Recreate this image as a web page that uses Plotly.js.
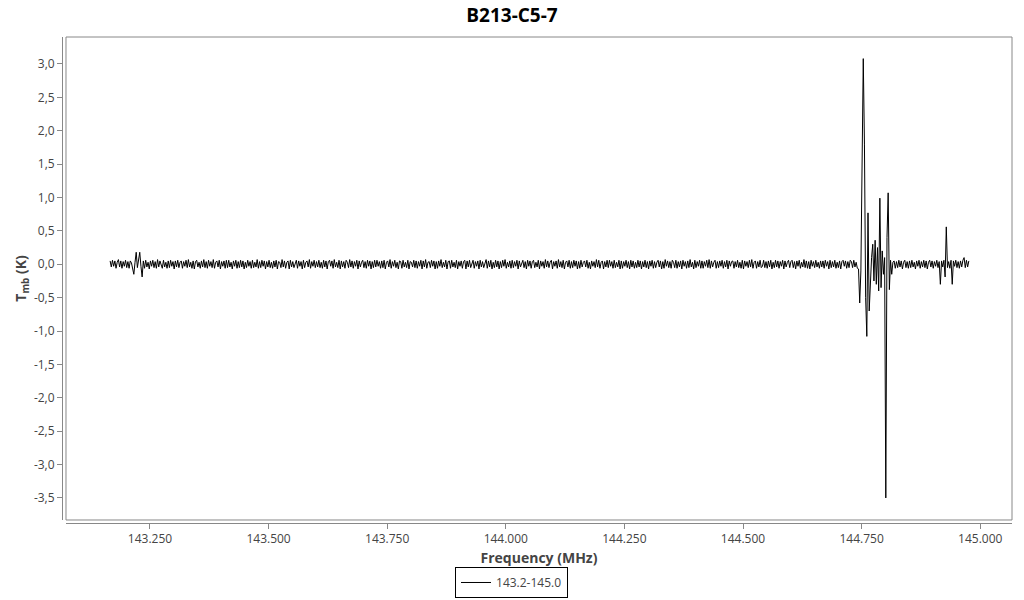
<!DOCTYPE html>
<html>
<head>
<meta charset="utf-8">
<script src="https://cdn.plot.ly/plotly-3.0.1.min.js"></script>
<style>html,body{margin:0;padding:0;background:#fff;}#chart{width:1024px;height:600px;}</style>
</head>
<body>
<div id="chart"></div>
<script>
// Spectrum channel grid: first channel frequency and channel width (MHz)
const freqStart = 143.166;
const freqStep = 0.0025;
const seriesName = "143.2-145.0";
// Main-beam temperature per channel (K)
const tmb = [
0.05,-0.04,0.06,-0.03,0.05,-0.06,0.03,0.07,-0.04,0.05,-0.06,0.04,-0.03,0.06,-0.05,0.04,-0.06,0.05,0.02,-0.05,-0.15,0.03,0.18,-0.05,0.04,
0.18,-0.03,-0.19,0.05,-0.06,0.06,-0.04,0.03,-0.07,0.05,-0.03,0.06,-0.05,0.04,-0.06,0.07,-0.04,0.05,-0.02,-0.06,0.06,-0.04,0.03,-0.06,0.05,
-0.05,0.06,-0.03,0.04,-0.07,0.05,-0.04,0.06,-0.05,0.03,0.05,-0.06,0.04,-0.03,0.06,-0.05,0.07,-0.04,0.03,-0.06,0.05,-0.07,0.04,0.06,-0.04,
0.03,-0.06,0.05,-0.04,0.07,-0.05,0.04,-0.06,0.06,-0.03,0.04,-0.05,0.07,-0.06,0.03,0.05,-0.04,0.06,-0.07,0.04,-0.03,0.05,-0.06,0.06,-0.05,
0.06,-0.04,0.03,-0.07,0.05,-0.03,0.06,-0.06,0.04,-0.05,0.06,-0.04,0.05,-0.07,0.03,-0.05,0.06,-0.03,0.04,-0.06,0.06,-0.05,0.03,-0.04,0.07,
-0.06,0.04,-0.05,0.06,-0.03,0.05,-0.07,0.04,-0.04,0.06,-0.05,0.03,-0.06,0.05,-0.04,0.06,-0.07,0.04,0.03,-0.05,0.07,-0.04,0.05,-0.06,0.03,
0.05,-0.07,0.06,-0.04,0.04,-0.05,0.03,0.06,-0.06,0.05,-0.03,0.04,-0.07,0.06,-0.05,0.03,0.05,-0.04,0.07,-0.06,0.04,-0.03,0.06,-0.05,0.04,
-0.04,0.06,-0.05,0.03,-0.06,0.06,-0.04,0.05,-0.07,0.04,0.06,-0.03,0.05,-0.06,0.07,-0.04,0.03,-0.05,0.06,-0.07,0.05,-0.04,0.04,-0.06,0.06,
0.03,-0.05,0.07,-0.04,0.05,-0.06,0.04,-0.03,0.06,-0.07,0.05,-0.04,0.03,0.06,-0.05,0.04,-0.06,0.06,-0.03,0.05,-0.07,0.04,-0.05,0.06,-0.04,
0.06,-0.03,0.04,-0.06,0.05,-0.05,0.06,-0.07,0.03,0.05,-0.04,0.07,-0.06,0.04,-0.03,0.06,-0.05,0.03,-0.07,0.05,0.04,-0.06,0.06,-0.04,0.03,
-0.05,0.06,-0.07,0.04,0.03,-0.04,0.06,-0.05,0.05,-0.06,0.04,-0.03,0.06,-0.07,0.05,-0.04,0.07,-0.06,0.03,0.04,-0.05,0.06,-0.03,0.05,-0.07,
0.04,-0.06,0.05,-0.03,0.07,-0.05,0.03,-0.04,0.06,-0.07,0.04,0.05,-0.06,0.06,-0.04,0.03,-0.05,0.06,-0.07,0.04,-0.03,0.05,-0.06,0.04,0.06,
-0.07,0.05,-0.04,0.06,-0.05,0.03,0.06,-0.06,0.04,-0.03,0.05,-0.07,0.06,-0.04,0.04,-0.05,0.03,0.07,-0.06,0.05,-0.04,0.06,-0.07,0.03,-0.05,
0.06,-0.04,0.05,-0.07,0.04,-0.05,0.06,-0.03,0.07,-0.06,0.03,-0.04,0.05,-0.06,0.06,-0.05,0.04,-0.03,0.06,-0.07,0.05,-0.04,0.03,0.06,-0.05,
0.04,-0.07,0.06,-0.03,0.05,-0.06,0.04,0.06,-0.05,0.03,-0.04,0.06,-0.07,0.05,-0.03,0.04,-0.06,0.07,-0.04,0.05,-0.05,0.03,0.06,-0.07,0.04,
-0.03,0.05,-0.06,0.07,-0.04,0.04,-0.05,0.06,-0.07,0.03,0.05,-0.04,0.06,-0.06,0.04,-0.05,0.06,-0.03,0.05,-0.07,0.04,-0.06,0.06,-0.04,0.03,
0.05,-0.04,0.06,-0.06,0.03,-0.07,0.05,-0.03,0.04,-0.05,0.07,-0.04,0.06,-0.06,0.03,0.05,-0.07,0.04,-0.04,0.06,-0.05,0.06,-0.03,0.04,-0.06,
0.06,-0.05,0.03,-0.04,0.06,-0.07,0.05,-0.06,0.04,-0.03,0.06,-0.05,0.04,-0.07,0.06,-0.04,0.05,-0.06,0.03,-0.05,0.06,-0.04,0.05,-0.07,0.04,
-0.04,0.06,-0.05,0.04,-0.07,0.05,-0.03,0.06,-0.06,0.04,-0.05,0.03,0.06,-0.04,0.05,-0.07,0.04,-0.06,0.07,-0.03,0.05,-0.05,0.04,-0.06,0.06,
0.03,-0.05,0.06,-0.06,0.04,-0.04,0.05,-0.07,0.06,-0.03,0.04,-0.06,0.05,-0.05,0.07,-0.04,0.03,-0.07,0.06,-0.05,0.04,-0.03,0.06,-0.06,0.05,
-0.06,0.04,-0.03,0.06,-0.05,0.07,-0.06,0.05,-0.04,0.03,0.06,-0.06,0.04,-0.05,0.05,-0.03,0.06,-0.06,0.04,-0.04,0.06,-0.07,0.05,-0.03,0.04,
0.05,-0.06,0.04,-0.04,0.06,-0.05,0.03,-0.06,0.06,-0.07,0.05,-0.03,0.04,-0.05,0.06,-0.04,0.07,-0.06,0.03,0.05,-0.06,0.04,-0.04,0.06,-0.05,
-0.03,0.06,-0.05,0.04,-0.06,0.05,-0.04,0.06,-0.07,0.03,-0.05,0.06,-0.04,0.05,-0.06,0.04,-0.03,0.06,-0.07,0.05,-0.04,0.03,0.06,-0.05,0.04,
0.06,-0.05,0.04,-0.07,0.05,-0.03,0.06,-0.06,0.03,-0.04,0.07,-0.05,0.05,-0.06,0.04,-0.07,0.06,-0.03,0.04,-0.05,0.06,-0.04,0.03,-0.06,0.05,
-0.04,0.05,-0.06,0.06,-0.03,0.04,-0.07,0.06,-0.05,0.04,-0.04,0.06,-0.06,0.03,-0.05,0.05,-0.07,0.04,0.06,-0.03,0.05,-0.06,0.04,-0.05,0.06,
0.04,-0.05,0.06,-0.04,0.03,-0.06,-0.07,-0.58,-0.10,1.20,3.08,1.80,-0.50,-1.08,0.77,-0.70,-0.20,0.10,0.30,-0.25,0.36,-0.30,0.25,-0.40,0.99,
-0.35,0.20,-0.15,0.10,-3.50,0.40,1.07,-0.38,0.06,-0.15,0.03,0.05,-0.06,0.04,-0.05,0.06,-0.04,0.05,-0.07,0.03,0.06,-0.05,0.04,-0.06,0.05,
-0.05,0.06,-0.04,0.03,-0.07,0.05,-0.03,0.06,-0.06,0.04,-0.04,0.06,-0.05,0.05,-0.07,0.03,0.06,-0.04,0.05,-0.06,0.04,-0.03,0.06,-0.05,0.04,
-0.30,0.05,-0.04,0.06,-0.19,0.56,-0.05,0.04,-0.06,0.06,-0.30,0.05,-0.03,0.06,-0.05,0.04,-0.06,0.05,-0.04,0.06,0.10,-0.05,0.06,-0.04,0.05
];
const xTickVals = [143.25, 143.5, 143.75, 144.0, 144.25, 144.5, 144.75, 145.0];
const xTickText = ["143.250","143.500","143.750","144.000","144.250","144.500","144.750","145.000"];
const yTickVals = [3.0, 2.5, 2.0, 1.5, 1.0, 0.5, 0.0, -0.5, -1.0, -1.5, -2.0, -2.5, -3.0, -3.5];
const yTickText = ["3,0","2,5","2,0","1,5","1,0","0,5","0,0","-0,5","-1,0","-1,5","-2,0","-2,5","-3,0","-3,5"];

const axisGray = '#888888';
const trace = {
  type: 'scatter', mode: 'lines', name: seriesName,
  x0: freqStart, dx: freqStep, y: tmb,
  line: {color: '#000000', width: 1}
};
const layout = {
  width: 1024, height: 600,
  margin: {l: 62, r: 12, t: 37, b: 77, autoexpand: false},
  paper_bgcolor: '#ffffff', plot_bgcolor: '#ffffff',
  font: {family: '"Open Sans", sans-serif', color: '#444', size: 12},
  title: {text: '<b>B213-C5-7</b>', x: 0.5, xanchor: 'center', y: 0.975, yanchor: 'middle',
          font: {size: 19, color: '#000', family: '"Open Sans", sans-serif'}},
  xaxis: {
    domain: [0.0042, 1], anchor: 'free', position: 0, automargin: false,
    range: [143.073, 145.067], tickvals: xTickVals, ticktext: xTickText,
    showgrid: false, zeroline: false, showline: true, linecolor: axisGray, linewidth: 1,
    ticks: 'outside', ticklen: 5, tickcolor: axisGray,
    title: {text: '<b>Frequency (MHz)</b>', font: {size: 14, color: '#444'}, standoff: 6}
  },
  yaxis: {
    domain: [0.0062, 1], anchor: 'free', position: 0, automargin: false,
    range: [-3.83, 3.404], tickvals: yTickVals, ticktext: yTickText,
    showgrid: false, zeroline: false, showline: true, linecolor: axisGray, linewidth: 1,
    ticks: 'outside', ticklen: 5, tickcolor: axisGray,
    title: {text: '<b>T<sub>mb</sub> (K)</b>', font: {size: 14, color: '#444'}, standoff: 2}
  },
  shapes: [{type: 'rect', xref: 'x domain', yref: 'y domain', x0: 0, x1: 1, y0: 0, y1: 1,
            line: {color: axisGray, width: 1}, fillcolor: 'rgba(0,0,0,0)'}],
  showlegend: true,
  legend: {orientation: 'v', x: 0.4137, xanchor: 'left', y: -0.1543, yanchor: 'bottom',
           bordercolor: '#000', borderwidth: 1, font: {size: 12, color: '#444'}}
};
Plotly.newPlot('chart', [trace], layout, {displayModeBar: false, staticPlot: true});
</script>
</body>
</html>
